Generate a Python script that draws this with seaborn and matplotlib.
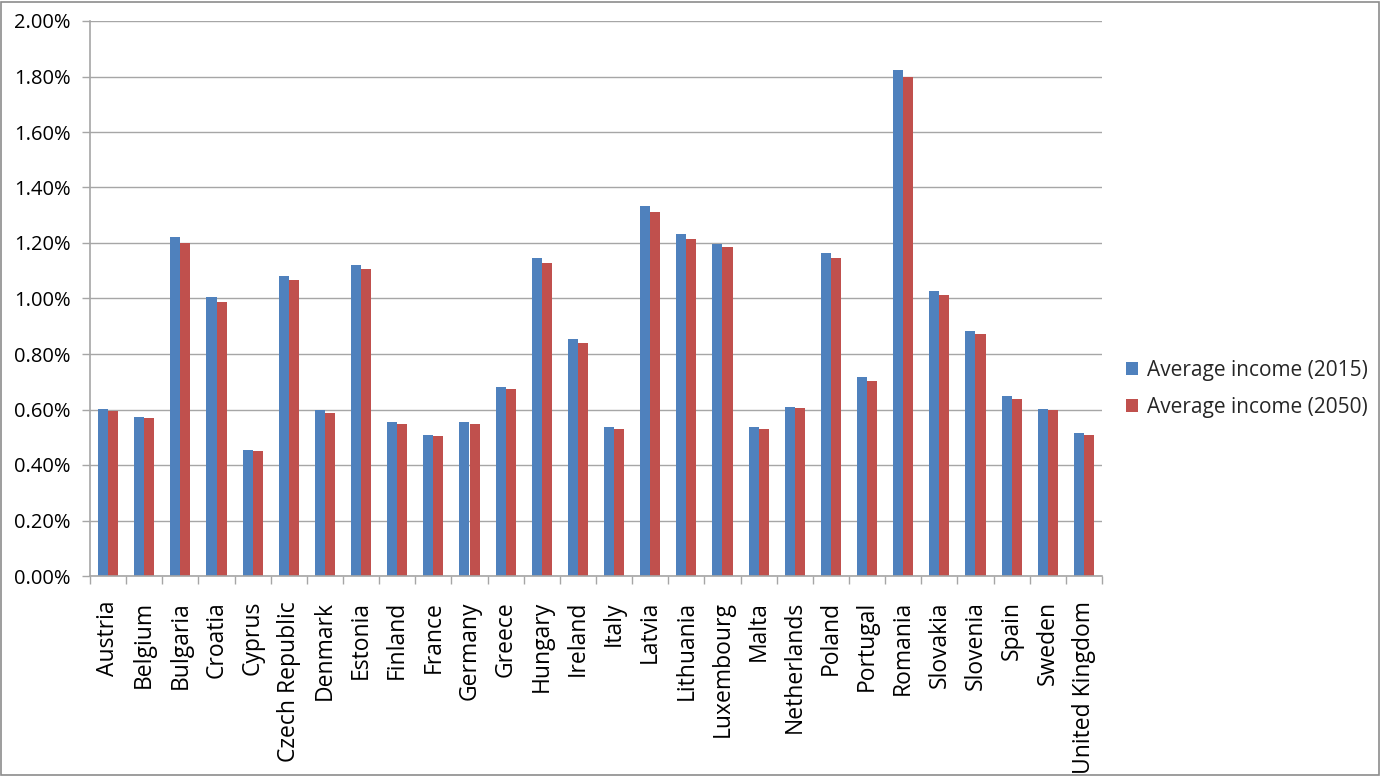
import matplotlib
matplotlib.use("Agg")
import matplotlib.pyplot as plt
import matplotlib.ticker as mticker
from matplotlib.patches import Rectangle
import seaborn as sns
import pandas as pd
import numpy as np

countries = ["Austria", "Belgium", "Bulgaria", "Croatia", "Cyprus", "Czech Republic",
             "Denmark", "Estonia", "Finland", "France", "Germany", "Greece", "Hungary",
             "Ireland", "Italy", "Latvia", "Lithuania", "Luxembourg", "Malta",
             "Netherlands", "Poland", "Portugal", "Romania", "Slovakia", "Slovenia",
             "Spain", "Sweden", "United Kingdom"]
income_2015 = [0.601, 0.574, 1.223, 1.005, 0.455, 1.081, 0.598, 1.122, 0.556, 0.508,
               0.554, 0.680, 1.147, 0.854, 0.538, 1.333, 1.232, 1.196, 0.536, 0.609,
               1.165, 0.718, 1.823, 1.028, 0.884, 0.647, 0.602, 0.514]
income_2050 = [0.596, 0.569, 1.200, 0.987, 0.450, 1.067, 0.589, 1.105, 0.549, 0.503,
               0.547, 0.673, 1.129, 0.841, 0.529, 1.313, 1.214, 1.184, 0.531, 0.604,
               1.147, 0.703, 1.797, 1.013, 0.872, 0.637, 0.598, 0.508]
series_names = ["Average income (2015)", "Average income (2050)"]
colors = ["#4F81BD", "#C0504D"]

df = pd.DataFrame({
    "country": countries * 2,
    "value": income_2015 + income_2050,
    "series": [series_names[0]] * len(countries) + [series_names[1]] * len(countries),
})

sns.set_theme(style="white")
plt.rcParams["font.family"] = ["Open Sans", "DejaVu Sans"]

fig = plt.figure(figsize=(13.81, 7.76), dpi=100)
ax = fig.add_axes([90 / 1381, 200 / 776, (1102 - 90) / 1381, (576 - 21) / 776])

sns.barplot(data=df, x="country", y="value", hue="series", palette=colors,
            width=0.56, ax=ax, legend=True, saturation=1, linewidth=0)

ax.set_ylim(0, 2.0)
ax.set_xlim(-0.5, len(countries) - 0.5)
ax.yaxis.set_major_locator(mticker.MultipleLocator(0.2))
ax.yaxis.set_major_formatter(mticker.FuncFormatter(lambda v, p: f"{v:.2f}%"))
ax.grid(axis="y", color="#A6A6A6", linewidth=1)
ax.set_axisbelow(True)
ax.set_xlabel("")
ax.set_ylabel("")

for s in ["top", "right"]:
    ax.spines[s].set_visible(False)
for s in ["left", "bottom"]:
    ax.spines[s].set_color("#A6A6A6")
    ax.spines[s].set_linewidth(1.2)

ax.tick_params(axis="y", which="major", left=True, length=6, width=1, color="#A6A6A6",
               labelsize=14.5, labelcolor="black", pad=8)
ax.tick_params(axis="x", which="major", bottom=False, labelsize=16.5,
               labelcolor="black", labelrotation=90, pad=12)
ax.set_xticks(np.arange(-0.5, len(countries), 1), minor=True)
ax.tick_params(axis="x", which="minor", bottom=True, length=6, width=1, color="#A6A6A6")

handles, labels = ax.get_legend_handles_labels()
ax.get_legend().remove()
fig.legend(handles, labels, loc="center left", bbox_to_anchor=(1107 / 1381, 1 - 389 / 776),
           frameon=False, fontsize=15, handlelength=0.6, handleheight=0.6,
           handletextpad=0.4, labelspacing=0.75)

fig.patches.append(Rectangle((0.0005, 0.001), 0.998, 0.997, transform=fig.transFigure,
                             fill=False, edgecolor="#8C8C8C", linewidth=1.2))

fig.savefig("out.png", dpi=100)
